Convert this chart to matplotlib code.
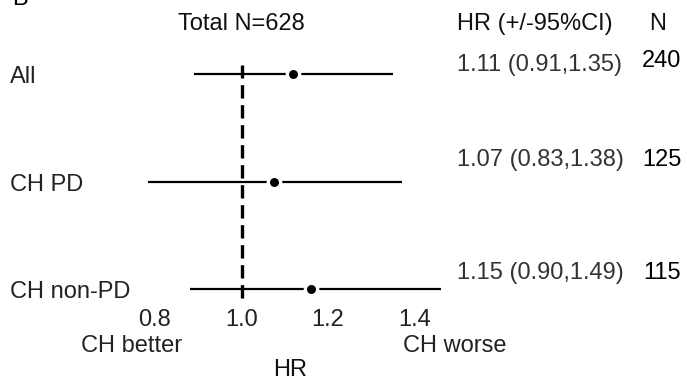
import numpy as np
import matplotlib.pyplot as plt
import matplotlib.transforms as mtransforms

plt.rcParams['font.family'] = ['Liberation Sans', 'DejaVu Sans']

# дані
groups = ["All", "CH PD", "CH non-PD"]
hr = [1.12, 1.075, 1.16]          # положення точок на графіку
ci_low = [0.89, 0.785, 0.88]
ci_high = [1.35, 1.37, 1.46]
hr_text = ["1.11 (0.91,1.35)", "1.07 (0.83,1.38)", "1.15 (0.90,1.49)"]
n_text = ["240", "125", "115"]
xticks = [0.8, 1.0, 1.2, 1.4]
xtick_labels = ["0.8", "1.0", "1.2", "1.4"]
ref = 1.0
total_n = 628

fs = 17
ypos = np.arange(len(groups))[::-1] + 1   # 3, 2, 1
# зсув підписів праворуч над лінією (в одиницях осі y)
txt_dy = [0.08, 0.2, 0.15]
n_dy = [0.12, 0.2, 0.15]

fig = plt.figure(figsize=(6.87, 3.83), dpi=100)
ax = fig.add_axes([130/687, 1 - 300/383, 320/687, 260/383])

for y, lo, hi, m in zip(ypos, ci_low, ci_high, hr):
    ax.plot([lo, hi], [y, y], color='black', lw=1.6, solid_capstyle='butt', zorder=2)
    ax.plot(m, y, 'o', color='black', ms=8.9, markeredgecolor='white',
            markeredgewidth=2.4, zorder=4)

ax.vlines(ref, ypos.min() - 0.084, ypos.max() + 0.084, color='black', lw=2.4,
          linestyles=(0, (4.0, 2.0)), zorder=3)

ax.set_xlim(0.7425, 1.4815)
ax.set_ylim(0.898, 3.316)
ax.set_xticks(xticks)
ax.set_xticklabels(xtick_labels, fontsize=fs, color='#222222')
ax.tick_params(axis='x', length=0, pad=6.5)
ax.set_yticks([])
for s in ax.spines.values():
    s.set_visible(False)
ax.set_xlabel("HR", fontsize=fs, labelpad=20.5, color='#111111')

# підписи рядків і колонок
tr = mtransforms.blended_transform_factory(fig.transFigure, ax.transData)
for y, g, t, n, d1, d2 in zip(ypos, groups, hr_text, n_text, txt_dy, n_dy):
    ax.text(10/687, y - 0.03, g, transform=tr, ha='left', va='center', fontsize=fs, color='#222222')
    ax.text(457/687, y + d1, t, transform=tr, ha='left', va='center', fontsize=fs, color='#333333')
    ax.text(662/687, y + d2, n, transform=tr, ha='center', va='center', fontsize=fs, color='black')

fig.text(241/687, 1 - 24/383, f"Total N={total_n}", ha='center', va='center', fontsize=fs, color='#111111')
fig.text(535/687, 1 - 24/383, "HR (+/-95%CI)", ha='center', va='center', fontsize=fs, color='#111111')
fig.text(658/687, 1 - 24/383, "N", ha='center', va='center', fontsize=fs, color='#111111')
fig.text(132/687, 1 - 346/383, "CH better", ha='center', va='center', fontsize=fs, color='#222222')
fig.text(455/687, 1 - 346/383, "CH worse", ha='center', va='center', fontsize=fs, color='#222222')
fig.text(12/687, 1 - 5/383, "B", ha='left', va='baseline', fontsize=fs, color='black')

fig.savefig("out.png", dpi=100)
